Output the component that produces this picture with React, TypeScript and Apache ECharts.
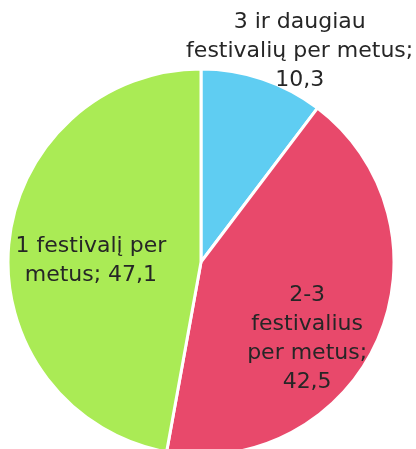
import React, { useEffect, useRef } from "react";
import * as echarts from "echarts";

const categories = ["3 ir daugiau festivalių per metus", "2-3 festivalius per metus", "1 festivalį per metus"];
const values = [10.3, 42.5, 47.1];
const labelTexts = ["3 ir daugiau\nfestivalių per metus;\n10,3", "2-3\nfestivalius\nper metus;\n42,5", "1 festivalį per\nmetus; 47,1"];
const colors = ["#5FCDF2", "#E8496B", "#AAEB55"];
const labelOffsets = [[67, -118], [15, 35], [-11, 6]];

export default function App() {
  const ref = useRef<HTMLDivElement>(null);
  useEffect(() => {
    const chart = echarts.init(ref.current!, undefined, { renderer: "svg" });
    chart.setOption({
      animation: false,
      series: [
        {
          type: "pie",
          center: [201, 262],
          radius: 193,
          startAngle: 90,
          clockwise: true,
          data: categories.map((c, i) => ({
            name: c,
            value: values[i],
            itemStyle: { color: colors[i] },
            label: { offset: labelOffsets[i] },
          })),
          itemStyle: { borderColor: "#ffffff", borderWidth: 3 },
          label: {
            show: true,
            position: "inside",
            formatter: (p: any) => labelTexts[p.dataIndex],
            color: "#262626",
            fontFamily: "DejaVu Sans",
            fontSize: 22,
            lineHeight: 29,
            align: "center",
          },
          labelLine: { show: false },
          emphasis: { disabled: true },
        },
      ],
    });
    return () => chart.dispose();
  }, []);
  return <div ref={ref} style={{ position: "fixed", left: 0, top: 0, width: 416, height: 449 }} />;
}
